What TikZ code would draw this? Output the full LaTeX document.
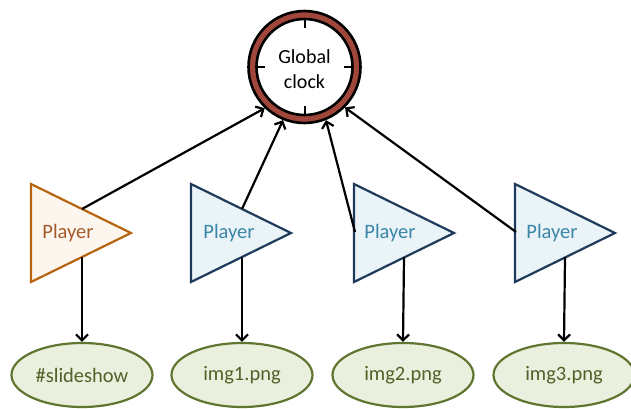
\documentclass[tikz,border=0pt]{standalone}
\usepackage{fontspec}
\setmainfont{Carlito}
\usetikzlibrary{arrows.meta,shapes.geometric}
\definecolor{ringc}{HTML}{A0463B}
\definecolor{brS}{HTML}{B8650F}
\definecolor{brF}{HTML}{FDF6EE}
\definecolor{brT}{HTML}{A65A2A}
\definecolor{blS}{HTML}{1F3B5C}
\definecolor{blF}{HTML}{EAF3F8}
\definecolor{blT}{HTML}{3A86A8}
\definecolor{grS}{HTML}{5F7530}
\definecolor{grF}{HTML}{EBF0DE}
\definecolor{grT}{HTML}{4F6228}
\tikzset{
  tribr/.style={draw=brS,fill=brF,line width=2.2pt,line join=miter},
  tribl/.style={draw=blS,fill=blF,line width=2.2pt,line join=miter},
  ptextbr/.style={text=brT,font=\fontsize{20.5}{24}\selectfont},
  ptextbl/.style={text=blT,font=\fontsize{20.5}{24}\selectfont},
  img/.style={ellipse,draw=grS,fill=grF,line width=2.2pt,minimum width=141pt,minimum height=64pt,inner sep=0pt,text=grT,font=\fontsize{20.5}{24}\selectfont},
  conn/.style={black,line width=2.2pt,-{Straight Barb[length=6pt,width=12pt,line width=2.2pt]}},
  tick/.style={black,line width=2pt}
}
\begin{document}
\begin{tikzpicture}[x=1pt,y=-1pt]
\useasboundingbox (0,0) rectangle (631,409);
% clock
\node[circle,draw=black,fill=ringc,line width=2.6pt,minimum size=112pt,inner sep=0pt] (clock) at (304.5,67) {};
\node[circle,draw=black,fill=white,line width=2.6pt,minimum size=96pt,inner sep=0pt] (clockin) at (304.5,67) {};
\node[align=center,font=\fontsize{20}{25}\selectfont] (clocktext) at (304.5,69.5) {Global\\clock};
\draw[tick] (clockin.north) -- ++(0,10);
\draw[tick] (clockin.south) -- ++(0,-10);
\draw[tick] (clockin.west) -- ++(10,0);
\draw[tick] (clockin.east) -- ++(-10,0);
% triangles
\draw[tribr] (31,184) -- (131,233) -- (31,282) -- cycle;
\node[ptextbr] (p1) at (68,233) {Player};
\draw[tribl] (191,184) -- (291,233) -- (191,282) -- cycle;
\node[ptextbl] (p2) at (229,233) {Player};
\draw[tribl] (354,184) -- (454,233) -- (354,282) -- cycle;
\node[ptextbl] (p3) at (390,233) {Player};
\draw[tribl] (515,184) -- (615,233) -- (515,282) -- cycle;
\node[ptextbl] (p4) at (552,233) {Player};
% start points
\coordinate (u1) at (82,209);
\coordinate (u2) at (242,209);
\coordinate (u3) at (355,232);
\coordinate (u4) at (516,232);
\coordinate (d1) at (82,257);
\coordinate (d2) at (242,257);
\coordinate (d3) at (404,257);
\coordinate (d4) at (565,257);
% ellipses
\node[img] (e1) at (82,375) {\#slideshow};
\node[img] (e2) at (242,375) {img1.png};
\node[img] (e3) at (403,375) {img2.png};
\node[img] (e4) at (564,375) {img3.png};
% connectors
\draw[conn] (u1) -- (clock.-134);
\draw[conn] (u2) -- (clock.-112);
\draw[conn] (u3) -- (clock.-68);
\draw[conn] (u4) -- (clock.-45);
\draw[conn] (d1) -- (e1.north);
\draw[conn] (d2) -- (e2.north);
\draw[conn] (d3) -- (e3.north);
\draw[conn] (d4) -- (e4.north);
\end{tikzpicture}
\end{document}
